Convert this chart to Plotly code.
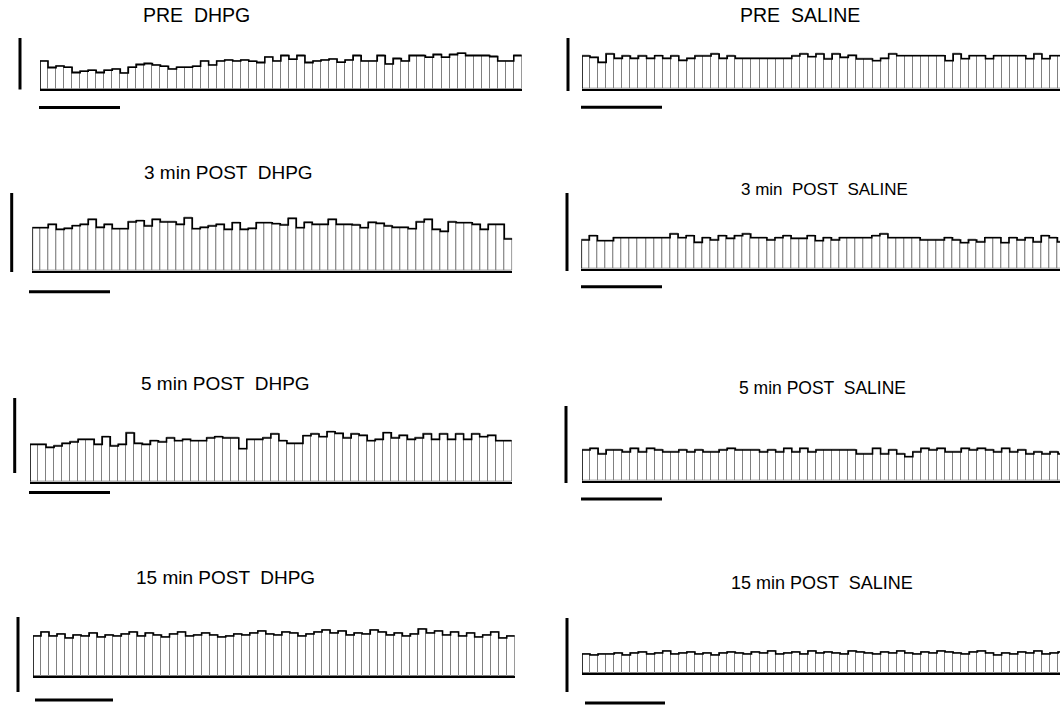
import plotly.graph_objects as go

W, H = 1060, 714

titles = ["PRE  DHPG", "PRE  SALINE", "3 min POST  DHPG", "3 min  POST  SALINE",
          "5 min POST  DHPG", "5 min POST  SALINE", "15 min POST  DHPG", "15 min POST  SALINE"]

pre_dhpg = [28.3, 21.7, 23.3, 22.0, 16.7, 18.0, 19.0, 16.7, 19.0, 20.3,
            16.3, 22.0, 24.7, 25.7, 24.3, 23.0, 20.3, 22.0, 22.0, 23.0,
            28.3, 24.3, 28.3, 29.3, 28.3, 29.3, 28.0, 26.7, 32.3, 28.3,
            33.7, 30.0, 33.7, 26.7, 28.3, 29.3, 30.3, 27.0, 29.3, 33.7,
            28.3, 28.3, 33.7, 25.3, 30.7, 28.3, 33.7, 33.7, 32.0, 34.7,
            32.0, 34.7, 36.0, 33.7, 33.7, 33.7, 32.7, 28.3, 28.3, 33.7]
pre_saline = [32.7, 31.3, 26.3, 34.7, 30.3, 32.7, 30.3, 32.7, 30.3, 33.0,
              30.3, 32.7, 28.3, 30.3, 32.7, 32.7, 34.7, 30.3, 32.7, 30.3,
              30.3, 30.3, 30.3, 30.3, 30.3, 30.3, 32.7, 34.7, 32.0, 34.7,
              29.7, 34.7, 31.3, 33.3, 29.7, 29.7, 28.0, 30.3, 34.7, 33.0,
              33.0, 33.0, 33.0, 33.0, 33.0, 28.0, 34.7, 30.0, 33.0, 33.0,
              30.0, 33.0, 33.0, 33.0, 33.0, 30.0, 34.7, 30.0, 33.0, 33.0]
post3_dhpg = [43.0, 43.0, 46.3, 41.3, 42.3, 45.0, 46.3, 51.3, 43.3, 46.3,
              42.0, 42.0, 48.7, 50.0, 44.7, 51.3, 48.7, 48.7, 46.3, 52.7,
              42.0, 43.3, 44.7, 46.3, 41.3, 48.0, 41.3, 42.3, 48.0, 48.0,
              47.0, 45.7, 52.3, 43.0, 48.3, 46.3, 46.3, 51.3, 46.3, 46.3,
              45.7, 43.0, 48.3, 47.3, 44.7, 43.3, 43.3, 42.0, 48.7, 51.3,
              41.3, 39.3, 48.7, 48.0, 48.0, 46.3, 41.3, 46.3, 46.3, 31.7]
post3_saline = [28.7, 33.0, 28.0, 28.0, 31.0, 31.0, 31.0, 31.0, 31.0, 31.0,
                31.0, 34.7, 31.0, 33.0, 26.3, 31.0, 28.7, 33.0, 30.3, 33.0,
                34.7, 31.0, 31.0, 28.7, 31.0, 33.0, 30.3, 30.3, 33.0, 28.0,
                31.0, 28.7, 31.0, 31.0, 31.0, 31.0, 33.0, 34.7, 31.0, 31.0,
                31.0, 31.0, 28.7, 28.7, 28.7, 31.0, 28.7, 26.0, 28.7, 26.7,
                31.0, 31.0, 26.0, 31.0, 28.7, 31.0, 26.7, 33.0, 31.0, 26.7]
post5_dhpg = [37.3, 37.3, 34.3, 35.7, 38.3, 39.7, 42.3, 42.3, 37.3, 45.0,
              35.7, 37.3, 48.7, 38.3, 37.3, 41.0, 39.7, 43.7, 41.0, 42.3,
              41.0, 41.0, 43.7, 45.0, 43.7, 43.7, 33.0, 42.3, 42.3, 43.7,
              47.7, 41.0, 38.3, 38.3, 46.0, 47.7, 45.0, 50.0, 48.3, 43.7,
              47.7, 46.3, 41.0, 42.3, 49.0, 43.7, 46.3, 42.3, 43.7, 47.7,
              42.3, 47.7, 42.3, 47.7, 42.3, 47.7, 45.0, 46.3, 41.0, 41.0]
post5_saline = [30.7, 32.3, 26.7, 30.7, 30.7, 28.7, 32.3, 28.7, 32.3, 30.7,
                28.7, 28.7, 30.7, 28.7, 30.7, 28.7, 28.7, 30.7, 32.3, 30.7,
                30.7, 30.7, 28.7, 30.7, 28.7, 32.3, 28.7, 32.3, 28.7, 30.7,
                30.7, 30.7, 30.7, 30.7, 26.7, 26.7, 32.3, 26.7, 30.7, 26.7,
                24.0, 28.7, 32.3, 30.7, 32.3, 28.7, 28.7, 32.3, 30.7, 32.3,
                30.7, 28.7, 32.3, 28.7, 30.7, 26.7, 28.7, 26.7, 28.7, 26.7]
post15_dhpg = [40, 44, 40, 42, 38, 41, 40, 43, 39, 41,
               40, 42, 44, 40, 43, 41, 39, 42, 44, 40,
               41, 43, 41, 39, 40, 42, 41, 43, 45, 42,
               41, 44, 43, 40, 42, 44, 46, 43, 45, 41,
               43, 42, 46, 44, 41, 43, 40, 42, 47, 43,
               45, 41, 44, 40, 43, 39, 41, 44, 38, 40]
post15_saline = [19, 18, 19, 19, 20, 18, 20, 21, 19, 20,
                 22, 19, 20, 21, 19, 20, 18, 20, 21, 20,
                 19, 21, 20, 22, 19, 20, 21, 19, 22, 20,
                 21, 20, 19, 22, 21, 20, 19, 21, 20, 22,
                 20, 19, 21, 20, 22, 21, 20, 19, 21, 22,
                 20, 18, 20, 19, 21, 20, 22, 19, 20, 21]

series = [pre_dhpg, pre_saline, post3_dhpg, post3_saline,
          post5_dhpg, post5_saline, post15_dhpg, post15_saline]

# panel geometry in pixels
geo = [
    dict(x0=40, w=8.03, base=89.3, tx=197, ty=15, ts=19.5, vs=(20, 38, 89.5), hs=(39, 120, 107.5)),
    dict(x0=582, w=8.07, base=88.7, tx=800, ty=15, ts=19.5, vs=(568, 38, 91), hs=(581, 662, 107.3)),
    dict(x0=32.3, w=8.0, base=270.7, tx=228, ty=172, ts=19, vs=(11.7, 193, 272), hs=(29, 110, 291.7)),
    dict(x0=581.3, w=8.07, base=268.7, tx=824, ty=190, ts=17, vs=(567, 193, 271), hs=(581, 662, 286.7)),
    dict(x0=30, w=8.03, base=481.7, tx=225, ty=383, ts=19, vs=(14.7, 398, 473), hs=(29, 110, 492.5)),
    dict(x0=582, w=8.07, base=480.7, tx=822, ty=388, ts=17.5, vs=(566, 406, 483), hs=(581, 662, 499)),
    dict(x0=33, w=8.03, base=676, tx=225, ty=577, ts=19, vs=(18, 617, 692), hs=(35, 113, 700)),
    dict(x0=582, w=8.07, base=673, tx=822, ty=583, ts=18, vs=(567, 618, 692), hs=(585, 665, 703)),
]

YMAX = 60.0

def px(x):
    return x / W

def py(y):
    return 1 - y / H

fig = go.Figure()
shapes = []
annotations = []
for i, (vals, g) in enumerate(zip(series, geo)):
    k = i + 1
    xa = "x" if k == 1 else f"x{k}"
    ya = "y" if k == 1 else f"y{k}"
    n = len(vals)
    xs = list(range(1, n + 1))
    fig.add_trace(go.Bar(x=xs, y=vals, width=1, xaxis=xa, yaxis=ya,
                         marker=dict(color="white", line=dict(color="#808080", width=1)),
                         showlegend=False, hoverinfo="skip"))
    edges = [j + 0.5 for j in range(n + 1)]
    fig.add_trace(go.Scatter(x=[0.5] + edges, y=[0] + vals + [vals[-1]], xaxis=xa, yaxis=ya,
                             mode="lines", line=dict(color="black", width=1.6, shape="hv"),
                             showlegend=False, hoverinfo="skip"))
    right_px = g["x0"] + n * g["w"]
    if right_px > W:
        dom_r = 1.0
        xr = [0.5, 0.5 + (W - g["x0"]) / g["w"]]
    else:
        dom_r = px(right_px)
        xr = [0.5, n + 0.5]
    xkey = "xaxis" if k == 1 else f"xaxis{k}"
    ykey = "yaxis" if k == 1 else f"yaxis{k}"
    fig.update_layout({
        xkey: dict(domain=[px(g["x0"]), dom_r], range=xr, anchor=ya,
                   showgrid=False, zeroline=False, showticklabels=False, ticks="",
                   showline=True, linecolor="black", linewidth=2),
        ykey: dict(domain=[py(g["base"]), py(g["base"] - YMAX)], range=[0, YMAX], anchor=xa,
                   showgrid=False, zeroline=False, showticklabels=False, ticks="", showline=False),
    })
    vx, vy0, vy1 = g["vs"]
    shapes.append(dict(type="line", xref="paper", yref="paper", x0=px(vx), x1=px(vx),
                       y0=py(vy0), y1=py(vy1), line=dict(color="black", width=3)))
    hx0, hx1, hy = g["hs"]
    shapes.append(dict(type="line", xref="paper", yref="paper", x0=px(hx0), x1=px(hx1),
                       y0=py(hy), y1=py(hy), line=dict(color="black", width=3)))
    annotations.append(dict(text=titles[i], xref="paper", yref="paper", x=px(g["tx"]), y=py(g["ty"]),
                            xanchor="center", yanchor="middle", showarrow=False,
                            font=dict(family="Liberation Sans, Arial, sans-serif", size=g["ts"], color="black")))

fig.update_layout(width=W, height=H, margin=dict(l=0, r=0, t=0, b=0),
                  paper_bgcolor="white", plot_bgcolor="white", bargap=0,
                  shapes=shapes, annotations=annotations)
fig.write_html("out.html")
